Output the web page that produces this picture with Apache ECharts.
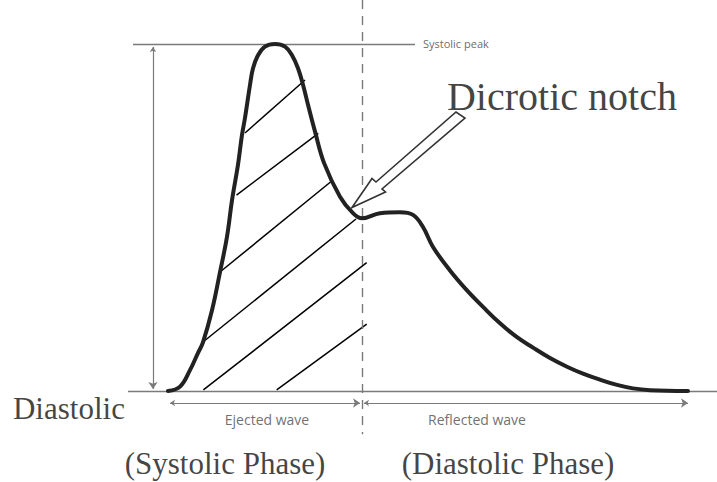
<!DOCTYPE html>
<html>
<head>
<meta charset="utf-8">
<script src="https://cdn.jsdelivr.net/npm/echarts@6/dist/echarts.min.js"></script>
<style>html,body{margin:0;padding:0;background:#fff}#c{width:717px;height:482px}</style>
</head>
<body>
<div id="c"></div>
<script>
// Time (ms) and pressure (mmHg) of the pulse waveform
const waveT = [0,18.5,33.8,46.2,53.8,67.7,80,90.8,98.5,107.7,113.8,118.5,126.2,130.8,138.5,149.2,164.6,180,190.8,200,207.7,215.4,226.2,240,264.6,284.6,298.5,326.2,356.9,376.9,392.3,407.7,433.8,460,484.6,510.8,536.9,561.5,587.7,613.8,638.5,664.6,690.8,715.4,741.5,800];
const waveP = [80,80.5,82.4,84.4,85.6,89.3,93.7,97.8,102.0,106.1,109.5,111.5,115.3,117.2,118.7,119.7,120,119.7,118.7,117.2,115.3,113.0,109.9,106.3,102.4,100.5,99.9,100.5,100.6,100.3,98.9,96.6,93.9,91.6,89.7,87.8,86.2,85.0,83.8,82.8,82.0,81.3,80.7,80.3,80.1,80];

// Hatch lines of the ejected area
const hatchFrom = [[118.5,109.74],[105.4,102.59],[80,93.72],[53.8,85.65],[54.4,80.12],[167.2,80.12]];
const hatchTo   = [[210.8,115.85],[231.2,109.70],[253.8,104.32],[289.2,99.83],[305.6,94.79],[305.7,87.72]];

// Guide segments
const baselineSeg = [[-61.5,80],[844.6,80]];
const peakSeg = [[-53.8,120],[380,120]];
const phaseSeg = [[298.5,125.07],[298.5,75]];
const amplitudeSeg = [[-23.1,119.65],[-23.1,80.23]];
const ejectedSeg = [[3.1,78.62],[295.4,78.62]];
const reflectedSeg = [[301.5,78.62],[800,78.62]];

// Block arrow pointing at the dicrotic notch
const arrowT = [283.08,313.85,320,443.08,456.92,329.23,334.62];
const arrowP = [101.15,104.50,104.09,112.16,111.47,103.29,102.94];

// Text labels
const labelText = ['Systolic peak','Dicrotic notch','Diastolic','Ejected wave','Reflected wave','(Systolic Phase)','(Diastolic Phase)'];
const labelAt = [[392.3,120],[429.2,113.9],[-238.5,77.93],[152.3,76.66],[475.4,76.66],[87.7,71.59],[523.1,71.59]];

const serif = '"Liberation Serif", "Times New Roman", serif';
const sans = '"Open Sans", "Liberation Sans", sans-serif';
const labelStyle = [
  {position:'right', distance:0, fontFamily:sans, fontSize:11, lineHeight:12, color:'#444'},
  {position:'right', distance:0, fontFamily:serif, fontSize:40, lineHeight:40, color:'#111'},
  {position:'right', distance:0, fontFamily:serif, fontSize:31, lineHeight:31, color:'#111'},
  {position:'inside', fontFamily:sans, fontSize:14, lineHeight:15, color:'#4a4a4a'},
  {position:'inside', fontFamily:sans, fontSize:14, lineHeight:15, color:'#4a4a4a'},
  {position:'inside', fontFamily:serif, fontSize:31, lineHeight:31, color:'#111'},
  {position:'inside', fontFamily:serif, fontSize:31, lineHeight:31, color:'#111'}
];

const chart = echarts.init(document.getElementById('c'), null, {renderer:'svg'});

const gray = '#7a7a7a';
function seg(s){ return {coords: s}; }

const series = [];
series.push({
  type:'lines', coordinateSystem:'cartesian2d', silent:true, z:1,
  lineStyle:{color:'#000', width:1.5, opacity:1},
  data: hatchFrom.map((f,i)=>({coords:[f, hatchTo[i]]}))
});
series.push({
  type:'lines', coordinateSystem:'cartesian2d', silent:true, z:1,
  lineStyle:{color:gray, width:1.4, opacity:1},
  data:[seg(baselineSeg), seg(peakSeg)]
});
series.push({
  type:'lines', coordinateSystem:'cartesian2d', silent:true, z:1,
  lineStyle:{color:gray, width:1.4, type:[9,7], opacity:1},
  data:[seg(phaseSeg)]
});
series.push({
  type:'lines', coordinateSystem:'cartesian2d', silent:true, z:1,
  symbol:['arrow','arrow'], symbolSize:[5,7],
  lineStyle:{color:gray, width:1.2, opacity:1},
  data:[seg(amplitudeSeg), seg(ejectedSeg), seg(reflectedSeg)]
});
series.push({
  type:'line', silent:true, z:3, showSymbol:false, symbol:'none',
  smooth:0.4,
  lineStyle:{color:'#222', width:4, cap:'round', join:'round'},
  data: waveT.map((t,i)=>[t, waveP[i]])
});
series.push({
  type:'custom', silent:true, z:4,
  data:[[arrowT[0], arrowP[0]]],
  renderItem:function(params, api){
    const pts = arrowT.map((t,i)=>api.coord([t, arrowP[i]]));
    return {type:'polygon', shape:{points:pts}, style:{fill:'#fff', stroke:'#333', lineWidth:1.6}};
  }
});
series.push({
  type:'scatter', silent:true, z:5, symbolSize:0,
  data: labelText.map((name,i)=>({
    name:name, value:labelAt[i],
    label: Object.assign({show:true, formatter:name, verticalAlign:'middle'}, labelStyle[i])
  }))
});

chart.setOption({
  animation:false,
  backgroundColor:'#fff',
  grid:{left:0, right:0, top:0, bottom:0},
  xAxis:{type:'value', min:-258.4615, max:844.615, show:false},
  yAxis:{type:'value', min:69.510, max:125.072, show:false},
  series: series
});
</script>
</body>
</html>
